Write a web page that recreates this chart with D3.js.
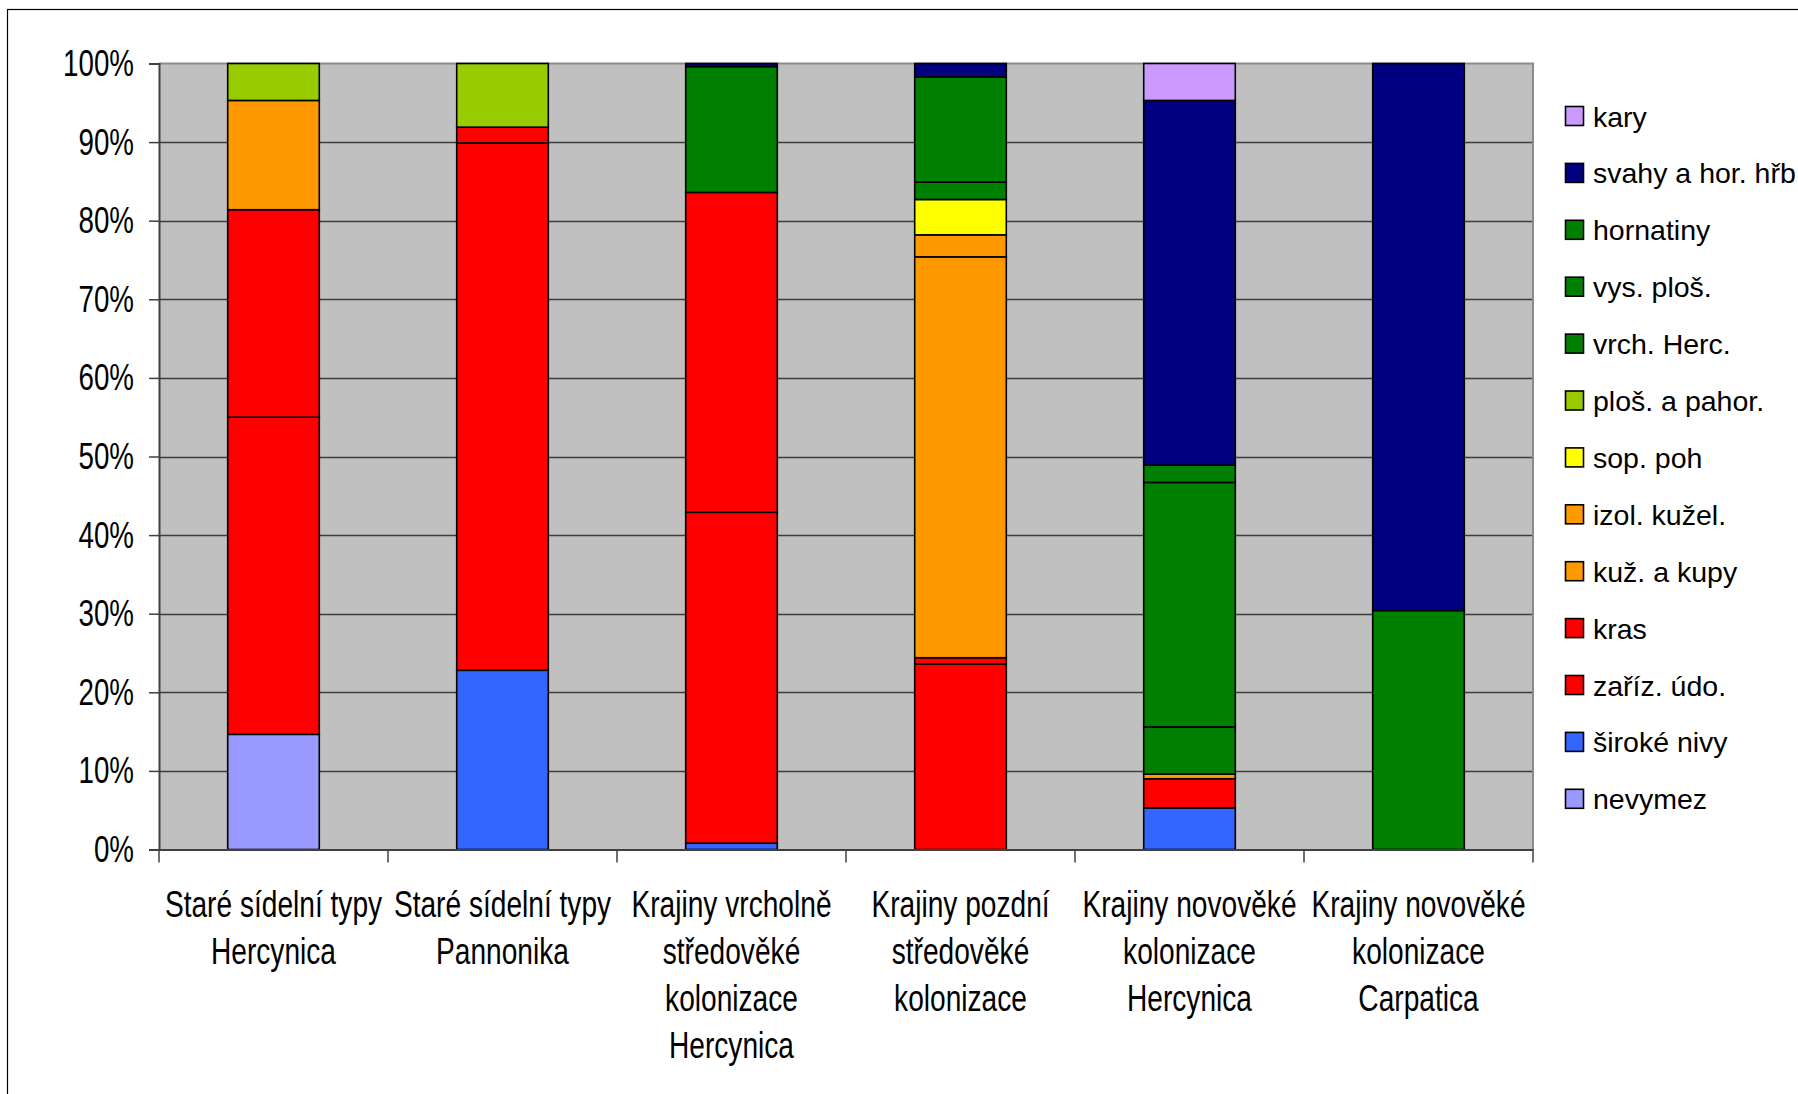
<!DOCTYPE html>
<html>
<head>
<meta charset="utf-8">
<script src="https://cdn.jsdelivr.net/npm/d3@7"></script>
<style>
  html, body { margin: 0; padding: 0; background: #fff; }
  svg { display: block; }
  text { font-family: "Liberation Sans", Arial, sans-serif; fill: #000; }
</style>
</head>
<body>
<svg id="chart" width="1798" height="1094"></svg>
<script>
// Categories (multi-line axis labels)
const categories = [
  "Staré sídelní typy Hercynica",
  "Staré sídelní typy Pannonika",
  "Krajiny vrcholně středověké kolonizace Hercynica",
  "Krajiny pozdní středověké kolonizace",
  "Krajiny novověké kolonizace Hercynica",
  "Krajiny novověké kolonizace Carpatica"
];
const categoryLines = [
  ["Staré sídelní typy", "Hercynica"],
  ["Staré sídelní typy", "Pannonika"],
  ["Krajiny vrcholně", "středověké", "kolonizace", "Hercynica"],
  ["Krajiny pozdní", "středověké", "kolonizace"],
  ["Krajiny novověké", "kolonizace", "Hercynica"],
  ["Krajiny novověké", "kolonizace", "Carpatica"]
];

// Series, stacked from the bottom up (shares in %)
const seriesNames = [
  "nevymez", "široké nivy", "zaříz. údo.", "kras", "kuž. a kupy",
  "izol. kužel.", "sop. poh", "ploš. a pahor.", "vrch. Herc.",
  "vys. ploš.", "hornatiny", "svahy a hor. hřb", "kary"
];
const nevymez     = [14.65, 0,    0,    0,    0,    0];
const sirokeNivy  = [0,     22.8, 0.8,  0,    5.3,  0];
const zarizUdo    = [40.35, 67.1, 42.1, 23.6, 3.7,  0];
const kras        = [26.4,  2.0,  40.7, 0.8,  0,    0];
const kuzAKupy    = [13.9,  0,    0,    51.0, 0.6,  0];
const izolKuzel   = [0,     0,    0,    2.8,  0,    0];
const sopPoh      = [0,     0,    0,    4.5,  0,    0];
const plosAPahor  = [4.7,   8.1,  0,    0,    0,    0];
const vrchHerc    = [0,     0,    16.0, 2.2,  6.0,  0];
const vysPlos     = [0,     0,    0,    0,    31.1, 0];
const hornatiny   = [0,     0,    0,    13.4, 2.2,  30.4];
const svahy       = [0,     0,    0.4,  1.7,  46.4, 69.6];
const kary        = [0,     0,    0,    0,    4.7,  0];
const seriesValues = [nevymez, sirokeNivy, zarizUdo, kras, kuzAKupy, izolKuzel,
  sopPoh, plosAPahor, vrchHerc, vysPlos, hornatiny, svahy, kary];
const seriesColors = ["#9999FF", "#3366FF", "#FF0000", "#FF0000", "#FF9900",
  "#FF9900", "#FFFF00", "#99CC00", "#008000", "#008000", "#008000", "#000080", "#CC99FF"];

const yTicks = [0, 10, 20, 30, 40, 50, 60, 70, 80, 90, 100];

// Build table for d3.stack
const table = categories.map((c, i) => {
  const row = { category: c };
  seriesNames.forEach((s, k) => { row[s] = seriesValues[k][i]; });
  return row;
});

const svg = d3.select("#chart");

// Outer chart frame (extends beyond the right and bottom edges)
svg.append("rect")
  .attr("x", 7.5).attr("y", 9.5)
  .attr("width", 1900).attr("height", 1200)
  .attr("fill", "#fff").attr("stroke", "#000").attr("stroke-width", 1.2);

const plot = { left: 159, right: 1533, top: 63.5, bottom: 849.5 };

const x = d3.scaleBand().domain(categories).range([plot.left, plot.right]).paddingInner(0).paddingOuter(0);
const y = d3.scaleLinear().domain([0, 100]).range([plot.bottom, plot.top]);
const color = d3.scaleOrdinal().domain(seriesNames).range(seriesColors);

// Plot area background
svg.append("rect")
  .attr("x", plot.left).attr("y", plot.top)
  .attr("width", plot.right - plot.left).attr("height", plot.bottom - plot.top)
  .attr("fill", "#C0C0C0");

// Horizontal gridlines
svg.append("g").selectAll("line")
  .data(yTicks.filter(t => t > 0 && t < 100))
  .join("line")
  .attr("x1", plot.left).attr("x2", plot.right)
  .attr("y1", d => Math.round(y(d)) + 0.5).attr("y2", d => Math.round(y(d)) + 0.5)
  .attr("stroke", "#3c3c3c").attr("stroke-width", 1.3);

// Plot area border (top and right)
svg.append("path")
  .attr("d", `M${plot.left},${plot.top}H${plot.right}V${plot.bottom}`)
  .attr("fill", "none").attr("stroke", "#8c8c8c").attr("stroke-width", 2);

// Stacked bars
const stack = d3.stack().keys(seriesNames);
const layers = stack(table);
const barW = x.bandwidth() / 2.5;

svg.append("g").selectAll("g")
  .data(layers)
  .join("g")
  .attr("fill", d => color(d.key))
  .selectAll("rect")
  .data(d => d.filter(p => p[1] - p[0] > 0))
  .join("rect")
  .attr("x", d => x(d.data.category) + (x.bandwidth() - barW) / 2)
  .attr("y", d => y(d[1]))
  .attr("width", barW)
  .attr("height", d => y(d[0]) - y(d[1]))
  .attr("stroke", "#000").attr("stroke-width", 1.6);

// Y axis
const yAxis = svg.append("g")
  .attr("transform", `translate(${plot.left},0)`)
  .call(d3.axisLeft(y).tickValues(yTicks).tickSize(10).tickFormat(() => ""));
yAxis.select(".domain").attr("stroke", "#404040").attr("stroke-width", 2);
yAxis.selectAll(".tick line").attr("stroke", "#404040").attr("stroke-width", 1.5);

// Y tick labels (narrow face)
svg.append("g").selectAll("g")
  .data(yTicks)
  .join("g")
  .attr("transform", d => `translate(134,${y(d) + 12.5}) scale(0.76,1)`)
  .append("text")
  .attr("text-anchor", "end")
  .style("font-size", "36.5px")
  .text(d => d + "%");

// X axis
const xAxis = svg.append("g")
  .attr("transform", `translate(0,${plot.bottom})`)
  .call(d3.axisBottom(x).tickSize(0).tickFormat(() => ""));
xAxis.select(".domain").attr("stroke", "#404040").attr("stroke-width", 2);
const bounds = categories.map(c => x(c)).concat([plot.right]);
svg.append("g").selectAll("line")
  .data(bounds)
  .join("line")
  .attr("x1", d => d).attr("x2", d => d)
  .attr("y1", plot.bottom).attr("y2", plot.bottom + 13)
  .attr("stroke", "#404040").attr("stroke-width", 1.5);

// X category labels
const xl = svg.append("g").selectAll("g")
  .data(categories)
  .join("g")
  .attr("transform", (d) => `translate(${x(d) + x.bandwidth() / 2},917) scale(0.76,1)`);
xl.each(function(d, i) {
  d3.select(this).selectAll("text")
    .data(categoryLines[i])
    .join("text")
    .attr("text-anchor", "middle")
    .attr("y", (l, j) => j * 47)
    .style("font-size", "37px")
    .text(l => l);
});

// Legend (top entry = top of stack)
const legendItems = seriesNames.slice().reverse();
const lg = svg.append("g").selectAll("g")
  .data(legendItems)
  .join("g")
  .attr("transform", (d, i) => `translate(1565,${116 + i * 56.9})`);
lg.append("rect")
  .attr("x", 0.5).attr("y", -9.5)
  .attr("width", 18).attr("height", 19)
  .attr("fill", d => color(d))
  .attr("stroke", "#000").attr("stroke-width", 1.6);
lg.append("text")
  .attr("x", 28).attr("y", 10.5)
  .style("font-size", "28.5px")
  .text(d => d);
</script>
</body>
</html>
